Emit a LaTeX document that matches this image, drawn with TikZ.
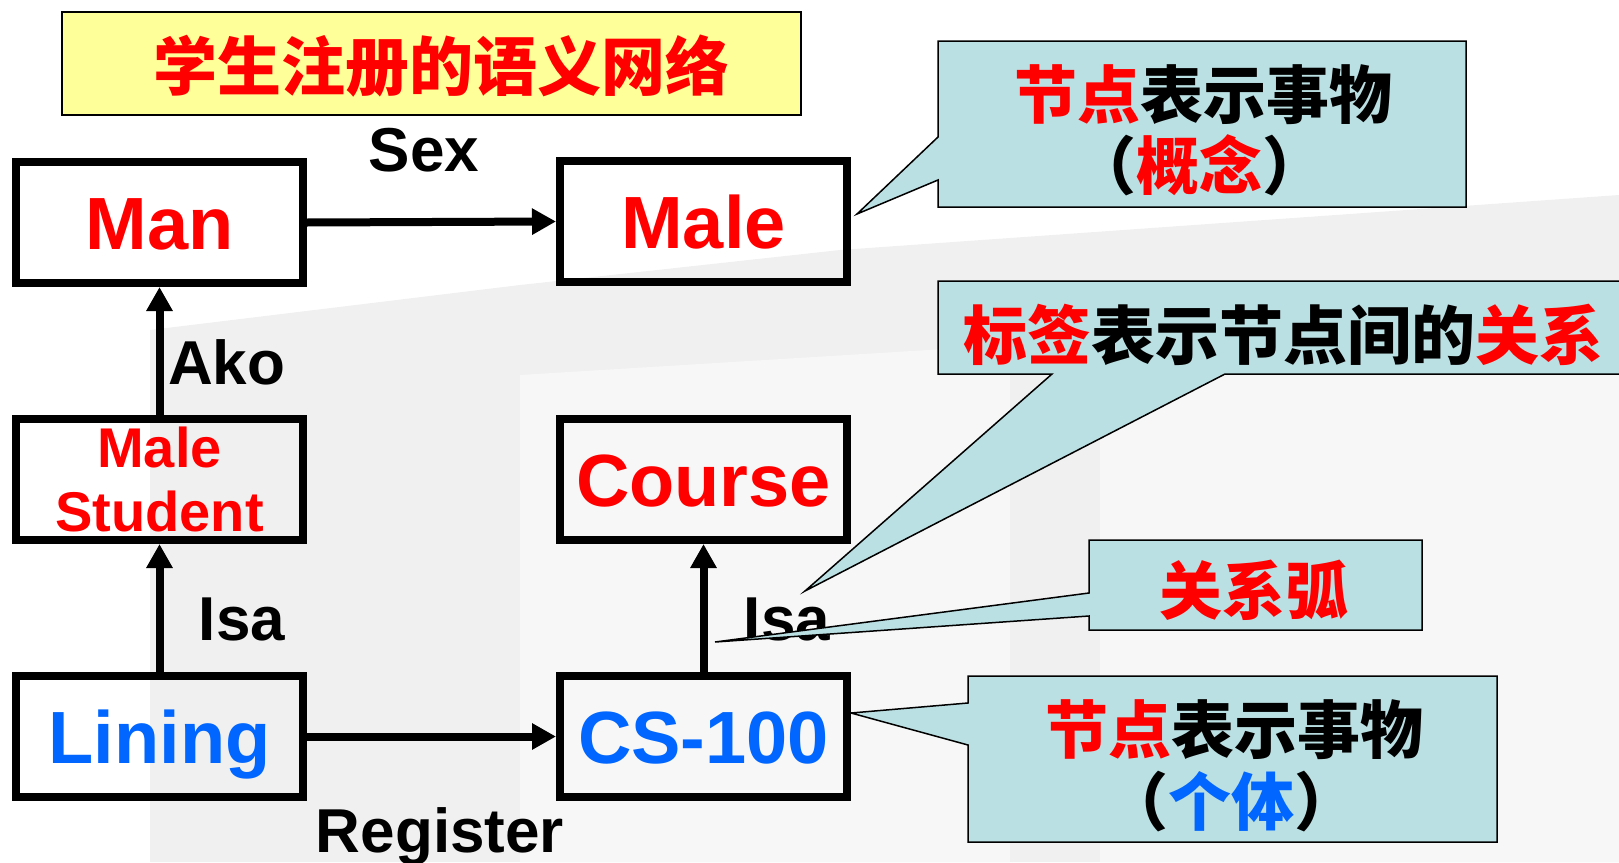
\documentclass[tikz,border=0pt]{standalone}
\usepackage{fontspec}
\setmainfont{Liberation Sans}
\newfontfamily\cjk{Noto Sans CJK SC}
\usetikzlibrary{arrows.meta}
\definecolor{tred}{RGB}{255,0,0}
\definecolor{tblue}{RGB}{0,102,255}
\definecolor{tyellow}{RGB}{255,255,153}
\definecolor{tcyan}{RGB}{187,224,227}
\definecolor{bgA}{RGB}{240,240,240}
\definecolor{bgB}{RGB}{247,247,247}
\begin{document}
\begin{tikzpicture}[x=1pt,y=-1pt,
  box/.style={draw=black, line width=8pt, minimum width=287pt, minimum height=121pt,
    inner sep=0pt, text height=53pt, text depth=0pt,
    font=\fontsize{74}{74}\selectfont\bfseries},
  lbl/.style={font=\fontsize{62}{62}\selectfont\bfseries, inner sep=0pt, anchor=base},
  link/.style={line width=8pt, -{Triangle[length=24pt,width=25pt]}},
  callout/.style={fill=tcyan, draw=black, line width=1.5pt, line join=miter},
  cjktext/.style={font=\cjk\fontsize{63}{63}\selectfont\bfseries, inner sep=0pt},
]
\useasboundingbox (0,0) rectangle (1619,862);
% faint background photo
\fill[bgA] (150,330) -- (520,285) -- (840,250) -- (1619,195) -- (1619,862) -- (150,862) -- cycle;
\fill[bgB] (520,375) -- (1010,345) -- (1010,862) -- (520,862) -- cycle;
\fill[bgB] (1100,330) -- (1619,290) -- (1619,862) -- (1100,862) -- cycle;
% title
\node[draw=black, line width=1.5pt, fill=tyellow, minimum width=739pt, minimum height=103pt, inner sep=0pt] (titlebox) at (431.5,63.5) {};
\node[cjktext, text=tred, font=\cjk\fontsize{64}{64}\selectfont\bfseries] (title) at (441,66) {学生注册的语义网络};
% boxes
\node[box, text=tred] (man) at (159.5,222.5) {Man};
\node[box, text=tred] (male) at (703.5,221.5) {Male};
\node[box, text=tred, align=center, text height=104pt, font=\fontsize{56}{64}\selectfont\bfseries] (mstud) at (159.5,479.5) {Male\\Student};
\node[box, text=tred] (course) at (703.5,479.5) {Course};
\node[box, text=tblue] (lining) at (159.5,736.5) {Lining};
\node[box, text=tblue] (cs) at (703.5,736.5) {CS-100};
% links
\draw[link] (man.east) -- (male.west);
\draw[link] (mstud.north) -- (man.south);
\draw[link] (lining.north) -- (mstud.south);
\draw[link] (cs.north) -- (course.south);
\draw[link] (lining.east) -- (cs.west);
% labels
\node[lbl] (lsex) at (424,171) {Sex};
\node[lbl, anchor=base west] (lako) at (168,384) {Ako};
\node[lbl] (lisa1) at (242,640) {Isa};
\node[lbl] (lisa2) at (787,640) {Isa};
\node[lbl] (lreg) at (440,852) {Register};
% callouts
\path[callout] (938,41) -- (1466,41) -- (1466,207) -- (938,207) -- (938,180) -- (857,214) -- (938,137) -- cycle;
\node[cjktext] (c1a) at (1203,95) {\textcolor{tred}{节点}表示事物};
\node[cjktext] (c1b) at (1199,165) {（\textcolor{tred}{概念}）};
\path[callout] (938,281) -- (1640,281) -- (1640,374) -- (1225,374) -- (805,591) -- (1052,374) -- (938,374) -- cycle;
\node[cjktext, font=\cjk\fontsize{64}{64}\selectfont\bfseries] (c2) at (1283,335) {\textcolor{tred}{标签}表示节点间的\textcolor{tred}{关系}};
\path[callout] (1089,540) -- (1422,540) -- (1422,630) -- (1089,630) -- (1089,616) -- (715,642) -- (1089,593) -- cycle;
\node[cjktext, text=tred] (c3) at (1254,590) {关系弧};
\path[callout] (968,676) -- (1497,676) -- (1497,842) -- (968,842) -- (968,745) -- (851,713) -- (968,703) -- cycle;
\node[cjktext] (c4a) at (1234,730) {\textcolor{tred}{节点}表示事物};
\node[cjktext] (c4b) at (1231,802) {（\textcolor{tblue}{个体}）};
\end{tikzpicture}
\end{document}
